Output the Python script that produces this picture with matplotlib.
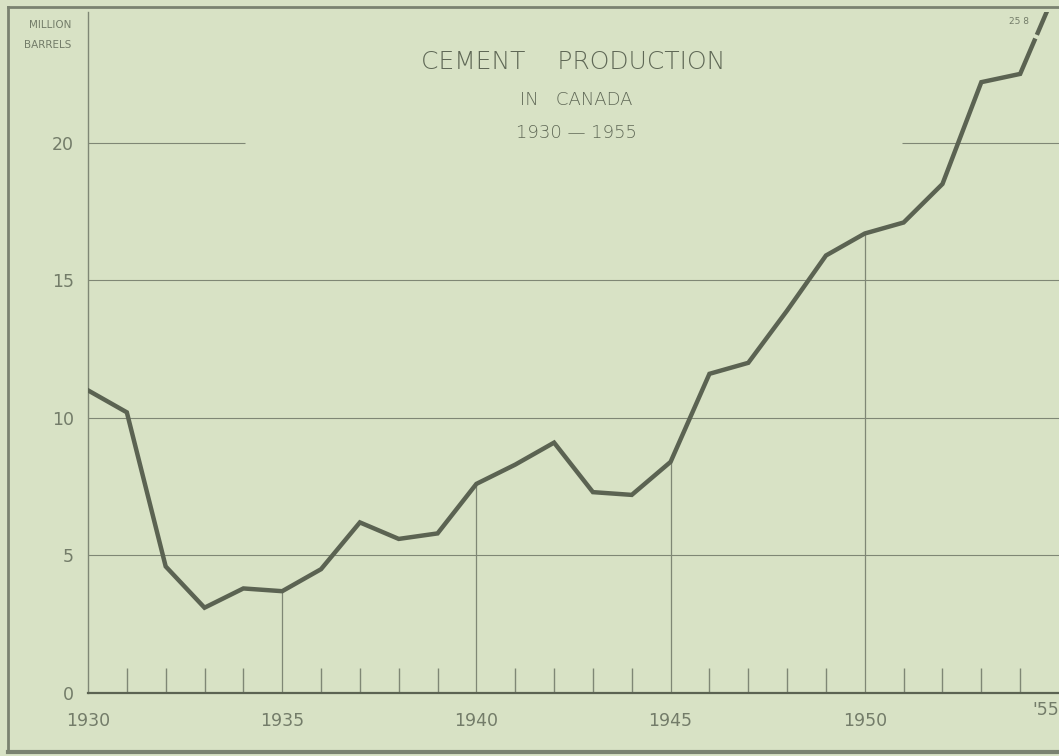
import numpy as np
import matplotlib.pyplot as plt
from matplotlib.lines import Line2D

# Cement production in Canada, million barrels
years = [1930, 1931, 1932, 1933, 1934, 1935, 1936, 1937, 1938, 1939,
         1940, 1941, 1942, 1943, 1944, 1945, 1946, 1947, 1948, 1949,
         1950, 1951, 1952, 1953, 1954, 1955]
production = [11.0, 10.2, 4.6, 3.1, 3.8, 3.7, 4.5, 6.2, 5.6, 5.8,
              7.6, 8.3, 9.1, 7.3, 7.2, 8.4, 11.6, 12.0, 13.9, 15.9,
              16.7, 17.1, 18.5, 22.2, 22.5, 25.8]

y_ticks = [0, 5, 10, 15, 20]
y_labels = ["0", "5", "10", "15", "20"]
x_ticks = [1930, 1935, 1940, 1945, 1950]
x_labels = ["1930", "1935", "1940", "1945", "1950"]

bg = "#d8e2c5"
ink = "#5b6352"
grid = "#7f8775"
txt = "#737c69"
title_col = "#5f6856"

W, H = 1059, 756
fig = plt.figure(figsize=(W / 100, H / 100), dpi=100)
fig.patch.set_facecolor(bg)

ax = fig.add_axes([88 / W, 63 / H, (W - 88) / W, 681 / H])
ax.set_facecolor(bg)
ax.set_xlim(1930, 1955)
ax.set_ylim(0, 24.75)

for s in ["top", "right"]:
    ax.spines[s].set_visible(False)
ax.spines["left"].set_color(grid)
ax.spines["left"].set_linewidth(1.0)
ax.spines["bottom"].set_color(ink)
ax.spines["bottom"].set_linewidth(1.6)

# horizontal rules
for v in y_ticks[1:-1]:
    ax.axhline(v, color=grid, lw=0.8, zorder=1)
# the 20 line is broken around the title
ax.hlines(20, 1930, 1934.05, color=grid, lw=0.8, zorder=1)
ax.hlines(20, 1950.95, 1955, color=grid, lw=0.8, zorder=1)

# small year ticks, and rules up to the curve every five years
prod = dict(zip(years, production))
for yr in years[1:-1]:
    if yr % 5 == 0:
        ax.vlines(yr, 0, prod[yr], color=grid, lw=0.9, zorder=1)
    else:
        ax.vlines(yr, 0, 0.9, color=grid, lw=1.0, zorder=1)

ax.plot(years, production, color=ink, lw=3.2, solid_joinstyle="miter", zorder=3)

# little break in the last segment where it runs off the top
t = np.array([0.39, 0.43])
bx = years[-2] + t * (years[-1] - years[-2])
by = production[-2] + t * (production[-1] - production[-2])
ax.plot(bx, by, color=bg, lw=5, solid_capstyle="butt", zorder=4)

ax.text(1953.7, 24.4, f"{production[-1]:.1f}".replace(".", " "),
        fontsize=6.5, color=txt, ha="left", va="center")

ax.set_yticks(y_ticks)
ax.set_yticklabels(y_labels, fontsize=12.5, color=txt)
ax.set_xticks(x_ticks)
ax.set_xticklabels(x_labels, fontsize=12.5, color=txt)
ax.tick_params(axis="both", length=0)
ax.tick_params(axis="y", pad=10)
ax.tick_params(axis="x", pad=14)
ax.text(1955, -0.3, "'55", fontsize=12.5, color=txt, ha="right", va="top")

fig.text(50 / W, 1 - 25 / H, "MILLION", fontsize=7.5, color=txt,
         ha="center", va="center")
fig.text(48 / W, 1 - 45 / H, "BARRELS", fontsize=7.5, color=txt,
         ha="center", va="center")

fig.text(573 / W, 1 - 62 / H, "CEMENT    PRODUCTION", fontsize=18,
         color=title_col, weight="light", ha="center", va="center")
fig.text(576 / W, 1 - 100 / H, "IN   CANADA", fontsize=13, color=title_col,
         weight="light", ha="center", va="center")
fig.text(576 / W, 1 - 133 / H, "1930 \u2014 1955", fontsize=13,
         color=title_col, weight="light", ha="center", va="center")

# outer drawing border
border = "#7a8270"
fig.add_artist(Line2D([8 / W, 8 / W], [1 - 7 / H, 1 - 752 / H],
                      color=border, lw=2))
fig.add_artist(Line2D([8 / W, 1], [1 - 7 / H, 1 - 7 / H], color=border, lw=2))
fig.add_artist(Line2D([8 / W, 1], [1 - 752 / H, 1 - 752 / H],
                      color=border, lw=3))

fig.savefig("out.png", dpi=100, facecolor=bg)
